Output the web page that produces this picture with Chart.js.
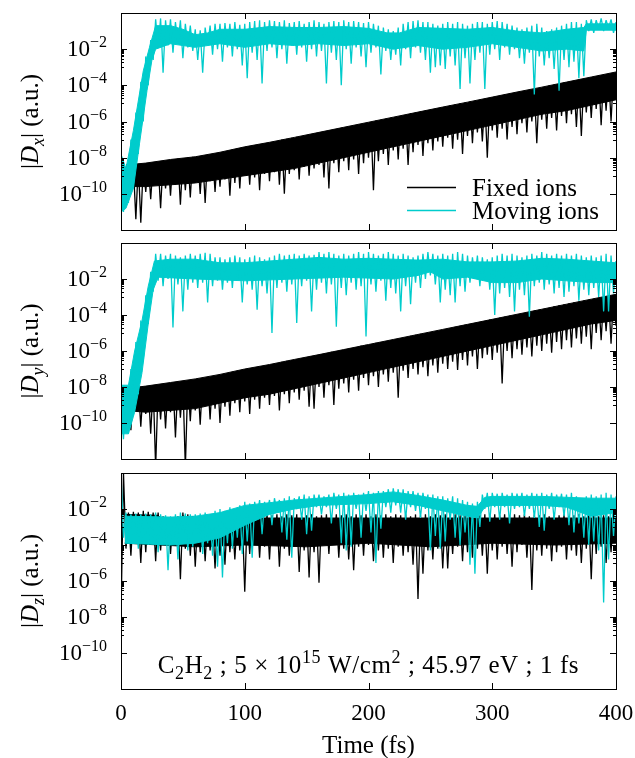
<!DOCTYPE html>
<html>
<head>
<meta charset="utf-8">
<title>C2H2 dipole</title>
<script src="https://cdn.jsdelivr.net/npm/chart.js@4.4.1/dist/chart.umd.min.js"></script>
<style>
  html, body { margin: 0; padding: 0; background: #fff; }
  #page { position: relative; width: 635px; height: 758px; }
  canvas { position: absolute; left: 0; }
</style>
</head>
<body>
<div id="page">
  <canvas id="panelX" width="635" height="236" style="top:0;width:635px;height:236px"></canvas>
  <canvas id="panelY" width="635" height="230" style="top:236px;width:635px;height:230px"></canvas>
  <canvas id="panelZ" width="635" height="292" style="top:466px;width:635px;height:292px"></canvas>
</div>
<script>
const timeStep = 2;
const seriesLabels = ['Fixed ions', 'Moving ions'];
const xTicks = [0, 100, 200, 300, 400];
const yTickExps = [-2, -4, -6, -8, -10];
const yMinorExps = [-3, -5, -7, -9];

const logFixedX = [
  -9.6, -8.8, -10.5, -8.4, -9.8, -8.45, -11.4, -8.35, -11.6, -8.4,
  -9.9, -8.3, -10.3, -8.25, -9.5, -8.3, -10.8, -8.2, -9.7, -8.15,
  -10.1, -8.1, -9.5, -8.05, -10.6, -8.05, -9.8, -8.0, -10.2, -7.95,
  -9.4, -7.95, -10.0, -7.9, -10.5, -7.85, -9.3, -7.8, -9.9, -7.75,
  -9.6, -7.7, -9.2, -7.65, -10.1, -7.55, -9.4, -7.5, -9.7, -7.45,
  -9.0, -7.4, -9.5, -7.35, -9.1, -7.3, -9.8, -7.25, -8.9, -7.2,
  -9.3, -7.15, -8.8, -7.1, -9.5, -7.0, -10.0, -6.95, -8.9, -6.9,
  -8.7, -6.85, -9.2, -6.8, -8.5, -6.75, -9.0, -6.7, -8.6, -6.65,
  -8.4, -6.6, -9.1, -6.55, -9.7, -6.5, -8.3, -6.45, -8.8, -6.35,
  -8.2, -6.3, -8.7, -6.25, -8.1, -6.2, -8.9, -6.15, -8.3, -6.1,
  -8.0, -6.05, -9.8, -5.95, -8.2, -5.9, -7.8, -5.85, -8.4, -5.8,
  -7.6, -5.75, -8.1, -5.7, -7.5, -5.65, -8.4, -5.55, -7.7, -5.5,
  -7.3, -5.45, -7.9, -5.4, -7.2, -5.35, -7.6, -5.3, -7.1, -5.25,
  -7.4, -5.2, -6.9, -5.1, -7.5, -5.05, -7.0, -5.0, -7.8, -4.95,
  -6.8, -4.9, -7.2, -4.85, -6.6, -4.8, -7.1, -4.75, -8.0, -4.7,
  -6.5, -4.65, -6.9, -4.6, -6.4, -4.5, -7.0, -4.45, -6.3, -4.4,
  -6.7, -4.35, -6.1, -4.3, -6.6, -4.25, -6.0, -4.2, -7.2, -4.15,
  -5.9, -4.1, -6.4, -4.0, -5.8, -3.95, -6.5, -3.9, -5.7, -3.85,
  -6.1, -3.8, -5.6, -3.75, -6.3, -3.7, -6.8, -3.65, -5.5, -3.6,
  -5.8, -3.55, -5.3, -3.45, -6.2, -3.4, -5.4, -3.35, -6.0, -3.3,
  -4.8
];

const logMovingX = [
  -7.7, -11.0, -8.5, -10.5, -7.0, -9.7, -5.5, -7.8, -3.8, -6.0,
  -2.4, -4.0, -1.5, -2.6, -0.35, -1.9, -0.3, -3.3, -0.4, -1.8,
  -0.35, -2.2, -0.5, -1.7, -0.4, -2.5, -0.6, -1.9, -0.7, -2.1,
  -0.9, -2.6, -0.95, -3.3, -0.8, -1.8, -0.7, -2.3, -0.6, -2.0,
  -0.6, -2.7, -0.55, -1.9, -0.6, -2.4, -0.5, -2.0, -0.65, -2.9,
  -0.6, -3.6, -0.5, -2.2, -0.45, -2.6, -0.4, -3.9, -0.5, -2.1,
  -0.4, -1.9, -0.45, -2.5, -0.5, -2.0, -0.4, -2.8, -0.55, -1.8,
  -0.5, -2.3, -0.45, -1.9, -0.6, -2.7, -0.5, -2.0, -0.4, -2.4,
  -0.5, -2.1, -0.6, -3.9, -0.5, -2.2, -0.45, -2.6, -0.5, -4.0,
  -0.4, -2.0, -0.5, -2.8, -0.45, -1.9, -0.5, -2.4, -0.55, -3.0,
  -0.5, -2.2, -0.6, -1.9, -0.7, -3.4, -0.8, -2.1, -0.9, -2.6,
  -1.0, -2.3, -0.8, -2.9, -0.6, -2.0, -0.5, -2.5, -0.45, -1.9,
  -0.4, -2.2, -0.5, -2.6, -0.5, -3.3, -0.6, -3.0, -0.7, -2.9,
  -0.6, -3.1, -0.5, -2.4, -0.6, -2.9, -0.5, -4.2, -0.6, -2.5,
  -0.7, -3.9, -0.6, -2.6, -0.5, -2.2, -0.5, -4.2, -0.6, -2.3,
  -0.5, -2.0, -0.45, -2.6, -0.5, -1.9, -0.6, -2.3, -0.7, -2.0,
  -0.8, -2.5, -0.9, -2.8, -0.8, -2.2, -0.7, -4.5, -0.6, -2.4,
  -0.8, -2.9, -1.0, -2.5, -0.9, -3.1, -0.8, -4.3, -0.7, -2.6,
  -0.6, -3.0, -0.5, -2.7, -0.5, -3.6, -0.6, -3.5, -0.4, -1.0,
  -0.35, -1.1, -0.4, -0.9, -0.3, -1.0, -0.4, -0.85, -0.35, -1.1,
  -0.5
];

const logFixedY = [
  -11.1, -8.1, -9.6, -8.0, -10.4, -8.0, -9.3, -7.95, -10.2, -8.0,
  -9.5, -7.95, -10.6, -7.9, -12.5, -7.9, -9.8, -7.85, -10.3, -7.8,
  -9.4, -7.75, -10.8, -7.7, -9.7, -7.7, -12.5, -7.65, -9.9, -7.6,
  -9.3, -7.55, -10.1, -7.5, -9.0, -7.45, -9.8, -7.4, -9.2, -7.35,
  -10.0, -7.3, -9.1, -7.25, -9.6, -7.15, -8.9, -7.1, -9.4, -7.05,
  -8.8, -7.0, -9.5, -6.95, -8.7, -6.9, -9.2, -6.85, -8.6, -6.8,
  -9.0, -6.75, -8.5, -6.7, -9.3, -6.6, -8.4, -6.55, -8.9, -6.5,
  -8.3, -6.45, -8.7, -6.4, -8.2, -6.4, -9.1, -6.35, -9.2, -6.25,
  -8.0, -6.2, -8.6, -6.15, -7.9, -6.05, -9.0, -6.0, -8.1, -5.95,
  -7.8, -5.9, -8.3, -5.85, -7.6, -5.8, -8.2, -5.7, -7.5, -5.65,
  -7.9, -5.65, -7.4, -5.55, -8.0, -5.5, -7.3, -5.45, -7.7, -5.4,
  -7.2, -5.35, -8.6, -5.3, -7.1, -5.25, -7.5, -5.15, -7.0, -5.1,
  -7.3, -5.05, -6.9, -5.0, -7.4, -4.95, -6.8, -4.9, -7.2, -4.85,
  -6.7, -4.8, -7.0, -4.75, -6.6, -4.65, -7.05, -4.6, -6.5, -4.55,
  -6.8, -4.5, -6.3, -4.45, -7.0, -4.4, -6.4, -4.35, -6.2, -4.25,
  -6.5, -4.25, -6.1, -4.15, -7.8, -4.1, -6.0, -4.05, -6.4, -4.0,
  -5.9, -3.95, -6.2, -3.9, -5.8, -3.8, -6.3, -3.75, -5.7, -3.7,
  -6.0, -3.65, -5.6, -3.6, -6.1, -3.5, -5.5, -3.45, -5.9, -3.4,
  -5.4, -3.35, -5.8, -3.3, -5.3, -3.25, -5.6, -3.2, -5.2, -3.15,
  -5.9, -3.1, -5.0, -3.05, -5.4, -3.0, -4.9, -2.95, -5.6, -2.9,
  -4.6
];

const logMovingY = [
  -8.6, -10.9, -8.2, -10.6, -7.0, -9.6, -5.5, -8.4, -4.3, -6.6,
  -2.9, -4.5, -1.6, -2.7, -0.6, -2.1, -0.6, -2.4, -0.7, -2.0,
  -0.6, -4.7, -0.7, -2.3, -0.8, -3.8, -0.7, -2.6, -0.6, -2.2,
  -0.7, -2.5, -0.6, -2.2, -0.55, -3.3, -0.6, -2.4, -0.8, -2.1,
  -0.8, -2.6, -0.9, -2.2, -0.8, -2.5, -0.7, -2.0, -0.8, -3.3,
  -0.9, -2.3, -0.8, -2.6, -0.7, -3.7, -0.8, -2.4, -0.9, -2.8,
  -0.8, -5.0, -0.7, -2.5, -0.6, -2.2, -0.7, -2.7, -0.65, -2.3,
  -0.6, -4.45, -0.7, -2.4, -0.6, -2.1, -0.7, -3.8, -0.65, -2.6,
  -0.5, -2.2, -0.6, -2.8, -0.5, -2.3, -0.6, -4.65, -0.7, -2.5,
  -0.6, -2.9, -0.7, -2.2, -0.6, -2.6, -0.5, -2.4, -0.6, -5.2,
  -0.5, -2.3, -0.6, -2.7, -0.7, -2.1, -0.6, -3.2, -0.5, -2.5,
  -0.6, -2.8, -0.7, -3.8, -0.6, -2.4, -0.7, -3.4, -0.8, -2.2,
  -0.7, -2.5, -0.6, -2.0, -0.5, -1.8, -0.6, -2.3, -0.7, -3.3,
  -0.6, -2.6, -0.7, -2.9, -0.6, -3.3, -0.5, -2.4, -0.6, -2.7,
  -0.7, -2.2, -0.8, -2.0, -0.7, -2.4, -0.8, -2.1, -0.9, -2.6,
  -0.8, -4.0, -0.7, -2.8, -0.6, -2.5, -0.7, -3.0, -0.6, -3.8,
  -0.7, -2.6, -0.8, -2.9, -0.7, -4.1, -0.6, -2.4, -0.7, -2.2,
  -0.5, -2.6, -0.6, -2.3, -0.7, -2.8, -0.6, -2.5, -0.7, -3.0,
  -0.6, -2.7, -0.7, -2.4, -0.6, -3.2, -0.7, -2.6, -0.8, -2.9,
  -0.7, -2.5, -0.8, -3.0, -0.7, -3.8, -0.6, -3.8, -0.7, -2.8,
  -1.0
];

const logFixedZ = [
  -8.0, 0.0, -4.2, -2.2, -4.6, -2.15, -3.9, -2.2, -5.0, -2.1,
  -4.4, -2.15, -3.8, -2.2, -4.9, -2.2, -4.3, -2.4, -3.9, -2.6,
  -4.5, -2.6, -3.7, -2.4, -5.9, -2.2, -4.2, -2.3, -4.6, -2.4,
  -5.2, -2.5, -4.4, -2.6, -4.9, -2.5, -4.3, -2.7, -5.3, -2.6,
  -4.6, -2.5, -5.1, -2.4, -4.4, -2.6, -4.8, -2.5, -4.3, -2.4,
  -6.6, -2.3, -4.5, -2.35, -3.9, -2.3, -4.7, -2.4, -4.1, -2.3,
  -4.8, -2.35, -4.0, -2.3, -5.2, -2.4, -4.2, -2.3, -4.6, -2.35,
  -4.1, -2.3, -5.5, -2.4, -4.3, -2.35, -5.8, -2.3, -4.4, -2.4,
  -6.1, -2.35, -4.0, -2.3, -4.5, -2.4, -3.9, -2.3, -4.7, -2.35,
  -4.2, -2.3, -4.8, -2.4, -5.4, -2.3, -4.1, -2.35, -4.6, -2.3,
  -4.0, -2.4, -4.9, -2.3, -4.3, -2.35, -4.7, -2.3, -4.2, -2.4,
  -5.0, -2.3, -4.1, -2.35, -4.6, -2.3, -4.4, -2.4, -5.1, -2.3,
  -7.0, -2.35, -5.6, -2.3, -4.3, -2.4, -4.8, -2.3, -4.2, -2.35,
  -5.3, -2.3, -5.3, -2.4, -4.5, -2.3, -4.1, -2.35, -4.9, -2.3,
  -4.4, -2.4, -4.7, -2.3, -4.2, -2.35, -4.6, -2.3, -5.6, -2.4,
  -4.3, -2.3, -4.8, -2.35, -4.1, -2.3, -4.5, -2.4, -5.2, -2.3,
  -4.4, -2.35, -4.0, -2.3, -4.7, -2.4, -6.5, -2.3, -4.3, -2.35,
  -4.6, -2.3, -4.2, -2.4, -4.9, -2.3, -4.4, -2.35, -4.1, -2.3,
  -4.8, -2.4, -4.3, -2.35, -4.6, -2.3, -5.0, -2.4, -4.2, -2.35,
  -5.9, -2.3, -4.5, -2.4, -4.1, -2.35, -5.0, -2.4, -4.4, -2.3,
  -3.5
];

const logMovingZ = [
  -0.1, -3.6, -2.2, -3.9, -2.3, -3.5, -2.25, -4.2, -2.3, -3.7,
  -2.25, -4.0, -2.3, -3.6, -2.2, -4.4, -2.3, -3.8, -2.35, -5.4,
  -2.4, -3.9, -2.3, -4.8, -2.2, -3.7, -2.25, -4.3, -2.3, -4.1,
  -2.3, -3.8, -2.25, -4.5, -2.2, -3.9, -2.3, -4.6, -2.1, -5.2,
  -2.0, -5.8, -2.1, -3.9, -1.9, -4.2, -2.0, -3.6, -1.8, -4.5,
  -1.6, -3.8, -1.7, -4.7, -1.6, -2.4, -1.5, -3.4, -1.6, -2.2,
  -1.5, -2.9, -1.4, -2.1, -1.5, -3.3, -1.4, -3.7, -1.3, -4.7,
  -1.4, -2.0, -1.3, -2.6, -1.2, -3.4, -1.3, -3.2, -1.2, -1.9,
  -1.2, -2.3, -1.3, -1.9, -1.2, -2.8, -1.1, -2.0, -1.2, -3.9,
  -1.1, -4.3, -1.2, -4.1, -1.1, -2.0, -1.2, -3.6, -1.1, -2.1,
  -1.0, -3.3, -1.1, -5.0, -1.0, -3.1, -1.0, -1.9, -0.9, -2.2,
  -0.85, -1.8, -0.9, -2.2, -0.9, -2.6, -1.0, -1.9, -1.0, -2.1,
  -1.1, -2.5, -1.1, -2.0, -1.2, -4.3, -1.2, -3.5, -1.3, -4.2,
  -1.3, -3.8, -1.4, -2.6, -1.3, -3.6, -1.4, -4.0, -1.5, -3.3,
  -1.6, -5.1, -1.7, -5.6, -1.6, -3.0, -1.2, -2.0, -1.1, -2.7,
  -1.1, -1.9, -1.15, -2.6, -1.1, -1.9, -1.2, -2.8, -1.1, -2.0,
  -1.15, -1.9, -1.1, -2.4, -1.2, -2.0, -1.1, -2.5, -1.15, -3.0,
  -1.1, -3.2, -1.2, -2.0, -1.1, -2.6, -1.2, -1.9, -1.15, -2.4,
  -1.2, -2.9, -1.1, -3.3, -1.3, -2.8, -1.4, -3.6, -1.3, -4.0,
  -1.2, -3.8, -1.3, -4.3, -1.2, -7.2, -1.1, -4.8, -1.2, -3.5,
  -1.3
];

// edges of the solid (densely oscillating) part of each trace, [time fs, log10 |D|]
const bandFixedXTop = [[4, -8.4], [20, -8.3], [40, -8.1], [60, -7.95], [80, -7.7], [100, -7.4], [120, -7.15], [140, -6.88], [160, -6.6], [180, -6.32], [200, -6.04], [220, -5.76], [240, -5.48], [260, -5.2], [280, -4.93], [300, -4.65], [320, -4.37], [340, -4.1], [360, -3.82], [380, -3.54], [400, -3.26]];
const bandFixedXBottom = [[4, -9.6], [20, -9.6], [40, -9.5], [60, -9.4], [80, -9.2], [100, -9.0], [120, -8.8], [140, -8.6], [160, -8.3], [180, -8.0], [200, -7.7], [220, -7.4], [240, -7.1], [260, -6.8], [280, -6.5], [300, -6.2], [320, -5.9], [340, -5.6], [360, -5.4], [380, -5.1], [400, -4.8]];
const bandMovingXTop = [[0, -7.8], [4, -8.6], [10, -6.5], [18, -3.2], [23, -1.9], [28, -0.7], [40, -0.7], [50, -0.9], [60, -1.2], [70, -1.1], [80, -0.9], [100, -0.9], [120, -0.75], [140, -0.8], [160, -0.8], [180, -0.75], [200, -0.85], [215, -1.1], [225, -1.1], [240, -0.8], [260, -0.85], [280, -0.9], [300, -0.8], [320, -1.0], [340, -1.1], [360, -0.9], [374, -0.8], [376, -0.6], [400, -0.6]];
const bandMovingXBottom = [[0, -11.0], [4, -10.8], [10, -9.7], [15, -7.2], [21, -4.3], [25, -2.6], [28, -2.0], [40, -1.7], [50, -1.8], [60, -1.9], [70, -1.8], [80, -1.7], [100, -1.9], [120, -1.7], [140, -1.8], [160, -1.7], [180, -1.8], [200, -1.7], [220, -2.0], [240, -1.8], [260, -2.0], [280, -1.9], [300, -1.7], [320, -1.9], [340, -2.1], [360, -2.0], [374, -2.1], [376, -0.95], [400, -0.95]];

const bandFixedYTop = [[2, -8.1], [20, -7.95], [40, -7.75], [60, -7.55], [80, -7.3], [100, -7.0], [120, -6.75], [140, -6.47], [160, -6.2], [180, -5.92], [200, -5.64], [220, -5.36], [240, -5.08], [260, -4.8], [280, -4.52], [300, -4.24], [320, -3.96], [340, -3.68], [360, -3.4], [380, -3.12], [400, -2.85]];
const bandFixedYBottom = [[2, -9.3], [20, -9.4], [40, -9.3], [60, -9.2], [80, -8.9], [100, -8.6], [120, -8.4], [140, -8.1], [160, -7.8], [180, -7.5], [200, -7.2], [220, -6.9], [240, -6.6], [260, -6.3], [280, -6.0], [300, -5.7], [320, -5.4], [340, -5.1], [360, -4.8], [380, -4.5], [400, -4.3]];
const bandMovingYTop = [[0, -7.9], [6, -7.9], [11, -6.0], [17, -4.3], [22, -2.4], [27, -1.0], [40, -0.9], [60, -0.9], [80, -1.1], [100, -1.1], [120, -1.0], [140, -0.9], [160, -0.8], [180, -0.9], [200, -0.85], [220, -0.9], [240, -0.95], [260, -0.9], [280, -1.05], [300, -1.05], [320, -1.0], [340, -0.85], [360, -0.9], [380, -1.0], [400, -1.1]];
const bandMovingYBottom = [[0, -10.6], [6, -10.6], [11, -9.4], [17, -7.2], [22, -4.5], [26, -2.6], [30, -1.9], [60, -2.0], [100, -2.1], [140, -2.0], [180, -1.9], [220, -2.0], [240, -1.8], [250, -1.6], [260, -2.0], [280, -1.9], [300, -2.2], [320, -2.2], [340, -2.0], [360, -2.1], [380, -2.2], [400, -2.2]];

const bandFixedZTop = [[3, -2.3], [30, -2.35], [34, -2.6], [45, -2.6], [50, -2.4], [80, -2.6], [100, -2.5], [200, -2.5], [300, -2.5], [400, -2.5]];
const bandFixedZBottom = [[3, -3.9], [60, -4.1], [100, -4.0], [150, -4.1], [200, -3.9], [250, -4.1], [300, -3.9], [350, -4.0], [400, -3.9]];
const bandMovingZTop = [[3, -2.4], [40, -2.45], [60, -2.4], [80, -2.2], [100, -1.8], [120, -1.65], [140, -1.5], [160, -1.4], [180, -1.3], [200, -1.2], [220, -1.05], [240, -1.25], [260, -1.5], [280, -1.8], [288, -1.85], [294, -1.35], [300, -1.3], [340, -1.3], [380, -1.4], [400, -1.4]];
const bandMovingZBottom = [[3, -3.9], [40, -4.0], [60, -3.9], [80, -3.6], [100, -2.9], [120, -2.3], [140, -2.0], [160, -1.8], [200, -1.7], [220, -1.6], [240, -1.8], [260, -2.1], [280, -2.4], [288, -2.5], [294, -1.9], [300, -1.8], [340, -1.8], [360, -1.9], [380, -2.4], [400, -2.2]];

const FONT = '"Liberation Serif", "Times New Roman", serif';

function fontFor(kind, base) {
  const small = kind === 'sub' || kind === 'sup' || kind === 'isub';
  const italic = kind === 'i' || kind === 'isub';
  const size = small ? Math.round(base * 0.7) : base;
  return (italic ? 'italic ' : '') + size + 'px ' + FONT;
}

function shiftFor(kind, base) {
  if (kind === 'sup') return -Math.round(base * 0.4);
  if (kind === 'sub' || kind === 'isub') return Math.round(base * 0.22);
  return 0;
}

function drawRich(ctx, parts, x, y, align, base) {
  let w = 0;
  parts.forEach(([t, k]) => { ctx.font = fontFor(k, base); w += ctx.measureText(t).width; });
  let cx = align === 'center' ? x - w / 2 : align === 'right' ? x - w : x;
  ctx.textAlign = 'left';
  ctx.textBaseline = 'alphabetic';
  parts.forEach(([t, k]) => {
    ctx.font = fontFor(k, base);
    ctx.fillText(t, cx, y + shiftFor(k, base));
    cx += ctx.measureText(t).width;
  });
}

function toPoints(logs) {
  return logs.map((v, i) => ({ x: i * timeStep, y: Math.pow(10, v) }));
}

function bandPoints(pairs) {
  return pairs.map(([t, v]) => ({ x: t, y: Math.pow(10, v) }));
}

const gnuFrame = {
  id: 'gnuFrame',
  afterDraw(chart, args, opts) {
    const ctx = chart.ctx;
    const a = chart.chartArea;
    const xs = chart.scales.x;
    const ys = chart.scales.y;
    const top = opts.pageTop || 0;
    ctx.save();
    ctx.strokeStyle = '#000';
    ctx.fillStyle = '#000';
    ctx.lineWidth = 1;

    ctx.strokeRect(a.left + 0.5, a.top + 0.5, a.right - a.left, a.bottom - a.top);

    ctx.beginPath();
    xTicks.forEach(t => {
      const px = Math.round(xs.getPixelForValue(t)) + 0.5;
      ctx.moveTo(px, a.bottom); ctx.lineTo(px, a.bottom - 6);
      ctx.moveTo(px, a.top); ctx.lineTo(px, a.top + 6);
    });
    yTickExps.forEach(e => {
      const py = Math.round(ys.getPixelForValue(Math.pow(10, e))) + 0.5;
      ctx.moveTo(a.left, py); ctx.lineTo(a.left + 6, py);
      ctx.moveTo(a.right, py); ctx.lineTo(a.right - 6, py);
    });
    yMinorExps.forEach(m => {
      for (let k = 1; k <= 9; k++) {
        const py = Math.round(ys.getPixelForValue(k * Math.pow(10, m))) + 0.5;
        ctx.moveTo(a.left, py); ctx.lineTo(a.left + 3, py);
        ctx.moveTo(a.right, py); ctx.lineTo(a.right - 3, py);
      }
    });
    ctx.stroke();

    // y tick labels
    yTickExps.forEach(e => {
      const py = ys.getPixelForValue(Math.pow(10, e));
      drawRich(ctx, [['10', 'r'], ['\u2212' + (-e), 'sup']], a.left - 14, py + 7, 'right', 23);
    });

    // y axis title
    ctx.save();
    ctx.translate(30, (a.top + a.bottom) / 2);
    ctx.rotate(-Math.PI / 2);
    drawRich(ctx, [['|', 'r'], ['D', 'i'], [opts.sub, 'isub'], ['|', 'r'], [' (a.u.)', 'r']], 0, 8, 'center', 25);
    ctx.restore();

    if (opts.legend) {
      const rows = [187.5, 210.5];
      chart.data.datasets.slice(0, 2).forEach((d, i) => {
        ctx.strokeStyle = d.borderColor;
        ctx.lineWidth = 1.5;
        ctx.beginPath();
        ctx.moveTo(407, rows[i]); ctx.lineTo(456, rows[i]);
        ctx.stroke();
        drawRich(ctx, [[d.label, 'r']], 472, rows[i] + 8, 'left', 25);
      });
    }

    if (opts.footer) {
      xTicks.forEach(t => {
        drawRich(ctx, [[String(t), 'r']], xs.getPixelForValue(t), 720 - top, 'center', 23);
      });
      const mid = (a.left + a.right) / 2;
      drawRich(ctx, [['Time (fs)', 'r']], mid, 753 - top, 'center', 25);
      ctx.letterSpacing = '0.6px';
      drawRich(ctx, [
        ['C', 'r'], ['2', 'sub'], ['H', 'r'], ['2', 'sub'],
        [' ; 5 \u00d7 10', 'r'], ['15', 'sup'], [' W/cm', 'r'], ['2', 'sup'],
        [' ; 45.97 eV ; 1 fs', 'r']
      ], mid, 673 - top, 'center', 25);
      ctx.letterSpacing = '0px';
    }
    ctx.restore();
  }
};

const FIXED_COLOR = '#000000';
const MOVING_COLOR = '#00cccc';

function traceSet(label, logs, color, order) {
  return {
    label: label,
    data: toPoints(logs),
    borderColor: color,
    borderWidth: 1.3,
    borderJoinStyle: 'bevel',
    pointRadius: 0,
    fill: false,
    order: order
  };
}

function bandSet(pairs, color, order, fill) {
  return {
    label: '',
    data: bandPoints(pairs),
    borderColor: color,
    borderWidth: 1,
    backgroundColor: color,
    pointRadius: 0,
    fill: fill,
    order: order
  };
}

function makePanel(id, fixedLogs, movingLogs, fixedBand, movingBand, sub, padding, extra) {
  return new Chart(document.getElementById(id), {
    type: 'line',
    data: {
      datasets: [
        traceSet(seriesLabels[0], fixedLogs, FIXED_COLOR, 3),
        traceSet(seriesLabels[1], movingLogs, MOVING_COLOR, 1),
        bandSet(fixedBand[0], FIXED_COLOR, 4, false),
        bandSet(fixedBand[1], FIXED_COLOR, 4, '-1'),
        bandSet(movingBand[0], MOVING_COLOR, 2, false),
        bandSet(movingBand[1], MOVING_COLOR, 2, '-1')
      ]
    },
    options: {
      responsive: false,
      animation: false,
      devicePixelRatio: 1,
      layout: { padding: padding },
      events: [],
      plugins: {
        legend: { display: false },
        tooltip: { enabled: false },
        gnuFrame: Object.assign({ sub: sub }, extra)
      },
      scales: {
        x: { type: 'linear', min: 0, max: 400, display: false },
        y: { type: 'logarithmic', min: 1e-12, max: 1, display: false }
      }
    },
    plugins: [gnuFrame]
  });
}

makePanel('panelX', logFixedX, logMovingX, [bandFixedXTop, bandFixedXBottom], [bandMovingXTop, bandMovingXBottom],
  'x', { left: 121, right: 19, top: 13, bottom: 6 }, { legend: true, pageTop: 0 });
makePanel('panelY', logFixedY, logMovingY, [bandFixedYTop, bandFixedYBottom], [bandMovingYTop, bandMovingYBottom],
  'y', { left: 121, right: 19, top: 7, bottom: 7 }, { pageTop: 236 });
makePanel('panelZ', logFixedZ, logMovingZ, [bandFixedZTop, bandFixedZBottom], [bandMovingZTop, bandMovingZBottom],
  'z', { left: 121, right: 19, top: 7, bottom: 69 }, { footer: true, pageTop: 466 });
</script>
</body>
</html>
